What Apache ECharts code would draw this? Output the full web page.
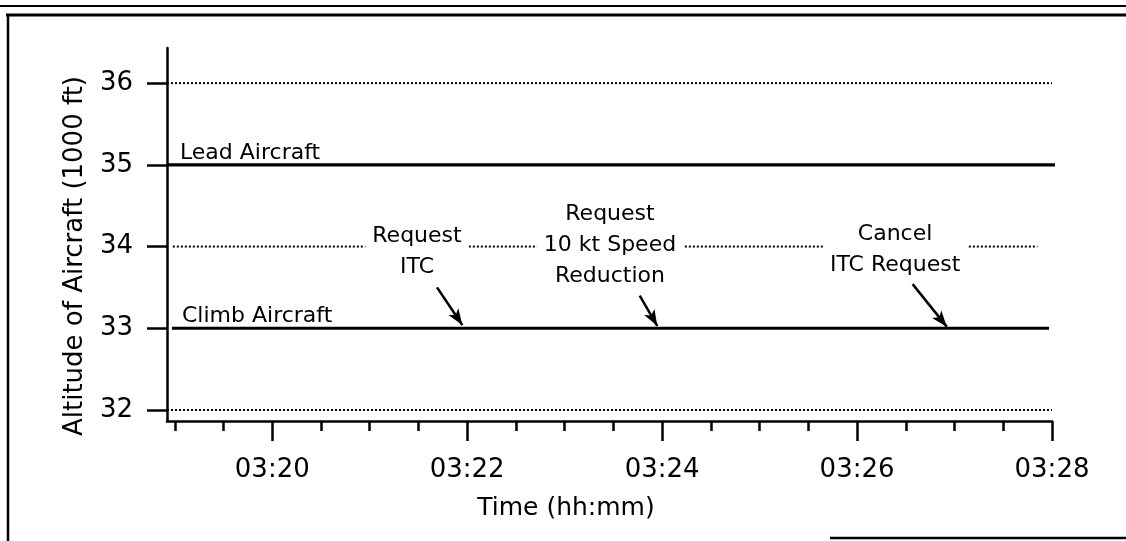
<!DOCTYPE html>
<html><head><meta charset="utf-8">
<script src="https://cdn.jsdelivr.net/npm/echarts@6/dist/echarts.min.js"></script>
<style>html,body{margin:0;padding:0;background:#fff}#c{width:1126px;height:541px}</style>
</head><body><div id="c"></div>
<script>
// time values are minutes after midnight (03:20 = 200)
const xMin = 198.92, xMax = 208;
const yMin = 31.865, yMax = 36.43;
const majorTimeTicks = [200, 202, 204, 206, 208];
const minorTimeTicks = [199, 199.5, 200.5, 201, 201.5, 202.5, 203, 203.5, 204.5, 205, 205.5, 206.5, 207, 207.5];
const altitudeTicks = [32, 33, 34, 35, 36];

const leadTimes = [198.92, 208.1];
const leadAlt = [35, 35];
const climbTimes = [198.97, 207.97];
const climbAlt = [33, 33];

const refLevels = [32, 34, 36];
const refStart = [198.92, 198.98, 198.92];
const refEnd = [208, 207.85, 208];

const annoText = ['Request\nITC', 'Request\n10 kt Speed\nReduction', 'Cancel\nITC Request'];
const annoTime = [201.485, 203.465, 206.39];
const annoAlt = [33.93, 34.02, 33.96];

const arrowFromTime = [201.69, 203.77, 206.57];
const arrowFromAlt = [33.50, 33.40, 33.54];
const arrowToTime = [201.95, 203.95, 206.92];
const arrowToAlt = [33.04, 33.03, 33.02];

const lineLabels = ['Lead Aircraft', 'Climb Aircraft'];
const lineLabelTime = [199.053, 199.074];
const lineLabelAlt = [35, 33];

const FONT = 'DejaVu Sans';
const fmtTime = v => {
  const h = Math.floor(v / 60 + 1e-9);
  const m = Math.round(v - h * 60);
  return String(h).padStart(2, '0') + ':' + String(m).padStart(2, '0');
};

const chart = echarts.init(document.getElementById('c'), null, {renderer: 'canvas'});
const gridPos = {left: 167, right: 74, top: 48, bottom: 120, containLabel: false};

const series = [];
series.push({
  type: 'line', xAxisIndex: 0, yAxisIndex: 0, clip: false, silent: true,
  symbol: 'none', data: leadTimes.map((t, i) => [t, leadAlt[i]]),
  lineStyle: {color: '#000', width: 3.2}, z: 3
});
series.push({
  type: 'line', xAxisIndex: 0, yAxisIndex: 0, clip: false, silent: true,
  symbol: 'none', data: climbTimes.map((t, i) => [t, climbAlt[i]]),
  lineStyle: {color: '#000', width: 3.2}, z: 3,
  markLine: {
    silent: true, animation: false,
    symbol: ['none', 'arrow'], symbolSize: [9, 16],
    label: {show: false},
    lineStyle: {color: '#000', width: 2.5, type: 'solid', opacity: 1},
    data: arrowFromTime.map((t, i) => [
      {coord: [t, arrowFromAlt[i]]},
      {coord: [arrowToTime[i], arrowToAlt[i]]}
    ])
  }
});
refLevels.forEach((lv, i) => {
  series.push({
    type: 'line', xAxisIndex: 0, yAxisIndex: 0, silent: true, symbol: 'none',
    data: [[refStart[i], lv], [refEnd[i], lv]],
    lineStyle: {color: '#000', width: 2, type: [2, 2]}, z: 1
  });
});
const labelBase = {fontFamily: FONT, fontSize: 22, color: '#000', opacity: 1};
series.push({
  type: 'scatter', xAxisIndex: 0, yAxisIndex: 0, silent: true, symbolSize: 0, z: 5,
  itemStyle: {opacity: 1},
  data: annoTime.map((t, i) => [t, annoAlt[i], annoText[i]]),
  label: Object.assign({
    show: true, position: 'inside', formatter: p => p.data[2],
    lineHeight: 31, backgroundColor: '#fff', padding: [0, 7], align: 'center',
    textBorderWidth: 0
  }, labelBase)
});
series.push({
  type: 'scatter', xAxisIndex: 0, yAxisIndex: 0, silent: true, symbolSize: 0, z: 5,
  itemStyle: {opacity: 1},
  data: lineLabelTime.map((t, i) => [t, lineLabelAlt[i], lineLabels[i]]),
  label: Object.assign({
    show: true, position: 'top', align: 'left', distance: 1,
    formatter: p => p.data[2]
  }, labelBase)
});

const option = {
  animation: false,
  backgroundColor: '#fff',
  grid: [Object.assign({}, gridPos), Object.assign({}, gridPos)],
  xAxis: [{
    type: 'value', gridIndex: 0, min: xMin, max: xMax,
    axisLine: {show: true, lineStyle: {color: '#000', width: 2.5}},
    axisTick: {show: true, customValues: majorTimeTicks, length: 20, lineStyle: {color: '#000', width: 2.5}},
    axisLabel: {show: true, customValues: majorTimeTicks, formatter: fmtTime, margin: 36,
      fontFamily: FONT, fontSize: 26, color: '#000'},
    splitLine: {show: false}
  }, {
    type: 'value', gridIndex: 1, min: xMin, max: xMax,
    axisLine: {show: false},
    axisTick: {show: true, customValues: minorTimeTicks, length: 10, lineStyle: {color: '#000', width: 2.5}},
    axisLabel: {show: false},
    splitLine: {show: false}
  }],
  yAxis: [{
    type: 'value', gridIndex: 0, min: yMin, max: yMax,
    axisLine: {show: true, lineStyle: {color: '#000', width: 2.5}},
    axisTick: {show: true, customValues: altitudeTicks, length: 20, lineStyle: {color: '#000', width: 2.5}},
    axisLabel: {show: true, customValues: altitudeTicks, margin: 34,
      fontFamily: FONT, fontSize: 26, color: '#000'},
    splitLine: {show: false}
  }, {
    type: 'value', gridIndex: 1, min: yMin, max: yMax, show: false
  }],
  graphic: [
    {type: 'line', shape: {x1: 0, y1: 6, x2: 1126, y2: 6}, style: {stroke: '#000', lineWidth: 2}, silent: true},
    {type: 'line', shape: {x1: 6, y1: 15, x2: 1126, y2: 15}, style: {stroke: '#000', lineWidth: 3}, silent: true},
    {type: 'line', shape: {x1: 8, y1: 14, x2: 8, y2: 541}, style: {stroke: '#000', lineWidth: 2.5}, silent: true},
    {type: 'line', shape: {x1: 830, y1: 538, x2: 1126, y2: 538}, style: {stroke: '#000', lineWidth: 2.5}, silent: true},
    {type: 'text', x: 75, y: 256, rotation: Math.PI / 2, silent: true,
      style: {text: 'Altitude of Aircraft (1000 ft)', fontFamily: FONT, fontSize: 26, fill: '#000',
        align: 'center', verticalAlign: 'middle'}},
    {type: 'text', x: 566, y: 508, silent: true,
      style: {text: 'Time (hh:mm)', fontFamily: FONT, fontSize: 25, fill: '#000',
        align: 'center', verticalAlign: 'middle'}}
  ],
  series: series
};
chart.setOption(option);
</script>
</body></html>
